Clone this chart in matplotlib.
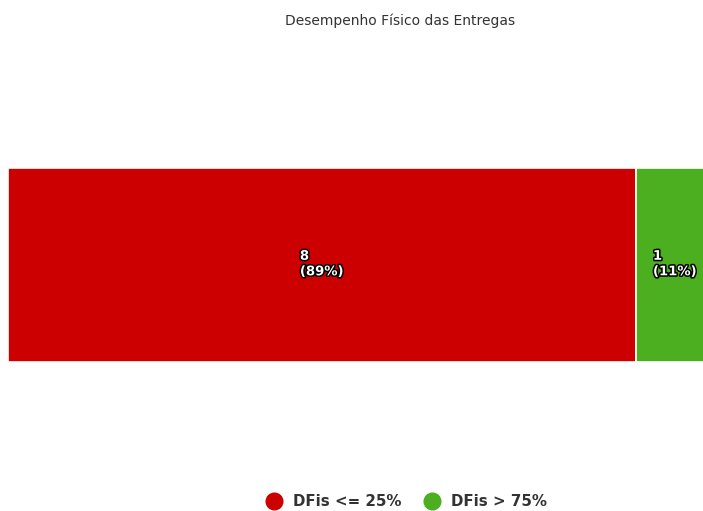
import matplotlib.pyplot as plt
import matplotlib.patheffects as pe
from matplotlib.lines import Line2D

# data
categories = ['DFis <= 25%', 'DFis > 75%']
values = [8, 1]
colors = ['#cc0000', '#4caf1f']
title = 'Desempenho Físico das Entregas'

total = sum(values)

fig = plt.figure(figsize=(7.03, 5.11), dpi=100)
# plot area runs a bit past the right edge, like the original
ax = fig.add_axes([8 / 703, 149 / 511, 706 / 703, 194 / 511])

left = 0
for cat, v, c in zip(categories, values, colors):
    ax.barh(0, v, left=left, height=1.0, color=c, edgecolor='white', linewidth=1.2)
    pct = round(100 * v / total)
    txt = ax.text(left + v / 2, -0.005, '%d\n(%d%%)' % (v, pct), ha='center', va='center',
                  multialignment='left', color='white', fontsize=9.5, fontweight='bold',
                  linespacing=1.25)
    txt.set_path_effects([pe.withStroke(linewidth=2.2, foreground='black')])
    left += v

ax.set_xlim(0, total)
ax.set_ylim(-0.5, 0.5)
ax.invert_yaxis()
ax.axis('off')

# original chart was wider, so title and legend sit right of centre
fig.text(400 / 703, 1 - 21 / 511, title, ha='center', va='center', fontsize=10, color='#333333')

# legend
handles = [Line2D([0], [0], marker='o', linestyle='', markersize=12, color=c) for c in colors]
fig.legend(handles, categories, loc='center', bbox_to_anchor=(403 / 703, 1 - 502 / 511), ncol=2,
           frameon=False, handletextpad=0.3, columnspacing=1.0,
           prop={'weight': 'bold', 'size': 10.8})
for t in fig.legends[0].get_texts():
    t.set_color('#333333')

plt.savefig('out.png', dpi=100)
